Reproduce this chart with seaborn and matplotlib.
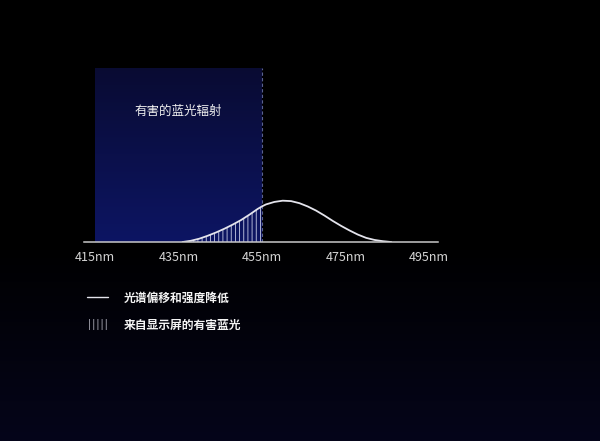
import numpy as np
import pandas as pd
import matplotlib
matplotlib.use("Agg")
import matplotlib.pyplot as plt
import seaborn as sns
from matplotlib.colors import LinearSegmentedColormap
from matplotlib.lines import Line2D
from matplotlib.patches import Patch

# spectrum (relative intensity)
wavelength = [436, 438, 440, 442, 444, 446, 448, 450, 452, 454, 455, 456, 458,
              460, 462, 464, 466, 468, 470, 472, 474, 476, 478, 480, 482, 484, 486]
intensity = [0.00, 0.03, 0.08, 0.15, 0.23, 0.32, 0.42, 0.53, 0.66, 0.80, 0.86, 0.91, 0.97,
             1.00, 0.99, 0.94, 0.86, 0.76, 0.64, 0.51, 0.39, 0.28, 0.18, 0.10, 0.05, 0.02, 0.00]

tick_values = [415, 435, 455, 475, 495]
tick_labels = ["415nm", "435nm", "455nm", "475nm", "495nm"]

band_start, band_end = 415, 455
band_label = "有害的蓝光辐射"
legend_labels = ["光谱偏移和强度降低", "来自显示屏的有害蓝光"]

df = pd.DataFrame({"wavelength": wavelength, "intensity": intensity})

sns.set_style("white")
plt.rcParams['font.family'] = ['Noto Sans CJK SC', 'DejaVu Sans']
plt.rcParams['hatch.linewidth'] = 0.6
plt.rcParams['hatch.color'] = '#c8cce6'

fig = plt.figure(figsize=(6, 4.41), dpi=100)
fig.patch.set_facecolor('black')

# figure background: black fading to very dark navy at the bottom
bg = fig.add_axes([0, 0, 1, 1], zorder=-10)
bg_cmap = LinearSegmentedColormap.from_list(
    "bg", [(0.0, '#000000'), (0.55, '#000000'), (1.0, '#05051a')])
bg.imshow(np.linspace(0, 1, 256).reshape(-1, 1), aspect='auto', cmap=bg_cmap,
          extent=(0, 1, 0, 1), origin='upper')
bg.set_axis_off()

ymax = 4.21
ax = fig.add_axes([0.14, 0.4512, 0.59, 0.3946])
ax.set_facecolor('none')

# harmful band with vertical gradient
band_cmap = LinearSegmentedColormap.from_list("band", ['#090b32', '#0d1563'])
ax.imshow(np.linspace(0, 1, 256).reshape(-1, 1), aspect='auto', cmap=band_cmap,
          extent=(band_start, band_end, 0, ymax), origin='upper', zorder=1)
ax.axvline(band_end, color='#5a6290', lw=0.8, ls=(0, (3, 2)), zorder=2)

# hatched area under curve inside the band
inside = df[df["wavelength"] <= band_end]
ax.fill_between(inside["wavelength"], inside["intensity"], 0, facecolor='none',
                edgecolor='#c8cce6', hatch='||||', lw=0, zorder=3)

sns.lineplot(data=df, x="wavelength", y="intensity", ax=ax, color='#e4e4ec',
             lw=1.3, zorder=4)
ax.set_xlim(412.4, 497.2)
ax.set_ylim(0, ymax)

for s in ['top', 'right', 'left']:
    ax.spines[s].set_visible(False)
ax.spines['bottom'].set_color('#c8c8c8')
ax.spines['bottom'].set_linewidth(1.1)
ax.spines['bottom'].set_zorder(5)
ax.set_yticks([])
ax.set_xticks(tick_values)
ax.set_xticklabels(tick_labels)
ax.tick_params(axis='x', direction='inout', length=7, width=1, color='#c8c8c8',
               labelcolor='#d4d4d4', labelsize=9, pad=3)
ax.set_xlabel("")
ax.set_ylabel("")

fig.text(0.297, 0.748, band_label, color='#f0f0f0', fontsize=9,
         ha='center', va='center')

handles = [Line2D([0], [0], color='#e4e4ec', lw=1.0),
           Patch(facecolor='none', edgecolor='#a8a8b4', hatch='||||', lw=0)]
fig.legend(handles, legend_labels, loc='upper left', bbox_to_anchor=(0.145, 0.338),
           frameon=False, prop={'weight': 'bold', 'size': 8.5}, labelcolor='#f4f4f4',
           handlelength=1.75, handleheight=1.0, handletextpad=1.35,
           labelspacing=1.15, borderpad=0, borderaxespad=0)

fig.savefig("out.png", dpi=100, facecolor=fig.get_facecolor())
